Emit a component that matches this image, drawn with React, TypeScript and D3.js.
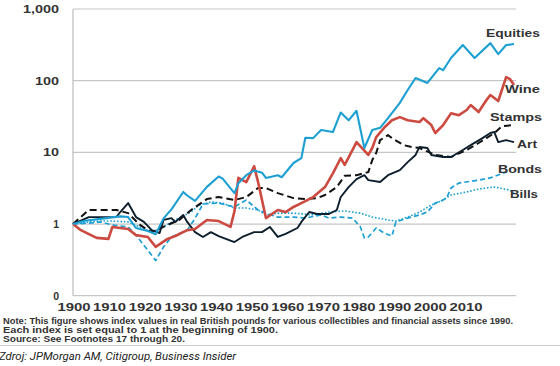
import * as d3 from 'd3';
import React, { useRef, useEffect } from 'react';

// [year, index value] (log scale, 1900 = 1)
const equities: [number, number][] = [
  [1900, 1.0], [1903, 1.11], [1908, 1.2], [1912, 1.28], [1914, 1.25], [1916, 0.88],
  [1919, 0.8], [1921, 0.72], [1923, 1.2], [1925, 1.6], [1928, 2.8], [1929, 2.5],
  [1931, 2.1], [1934, 3.3], [1937, 4.6], [1938, 4.3], [1941, 2.7], [1942, 3.7],
  [1944, 4.8], [1946, 5.6], [1948, 5.2], [1949, 4.4], [1952, 4.8], [1953, 4.5],
  [1956, 7.1], [1958, 8.3], [1959, 16], [1961, 15.8], [1963, 20.5], [1966, 19.2],
  [1968, 36], [1970, 28], [1972, 38], [1974, 11.5], [1976, 20.5], [1978, 22],
  [1980, 30], [1983, 49], [1985, 74], [1987, 109], [1990, 93], [1993, 150],
  [1994, 140], [1996, 207], [1999, 314], [2002, 207], [2006, 334], [2008, 235],
  [2010, 314], [2012, 324],
];

const wine: [number, number][] = [
  [1900, 1.0], [1902, 0.82], [1906, 0.64], [1909, 0.62], [1910, 0.91], [1914, 0.85],
  [1916, 0.7], [1919, 0.66], [1921, 0.48], [1924, 0.62], [1926, 0.68], [1929, 0.82],
  [1931, 0.85], [1934, 1.14], [1937, 1.1], [1940, 0.91], [1941, 1.5], [1942, 4.4],
  [1944, 3.85], [1946, 6.4], [1947, 3.85], [1949, 1.21], [1952, 1.57], [1954, 1.47],
  [1956, 1.73], [1958, 1.96], [1961, 2.38], [1964, 3.28], [1966, 5.1], [1968, 8.3],
  [1969, 6.7], [1971, 10.8], [1972, 13.9], [1975, 9.2], [1976, 11.5], [1977, 16.3],
  [1979, 22], [1981, 28], [1983, 31], [1985, 28], [1988, 26.5], [1989, 30],
  [1991, 24], [1992, 18.6], [1994, 24], [1996, 35], [1998, 33], [2000, 39],
  [2001, 45.7], [2003, 36.5], [2005, 53.6], [2006, 63], [2008, 52], [2010, 112],
  [2011, 105], [2012, 87],
];

const stamps: [number, number][] = [
  [1900, 1.0], [1904, 1.57], [1907, 1.57], [1911, 1.57], [1914, 1.42], [1917, 0.97],
  [1920, 0.77], [1924, 0.97], [1927, 1.14], [1930, 1.57], [1934, 2.23], [1937, 2.38],
  [1941, 2.16], [1944, 2.38], [1947, 3.18], [1949, 3.18], [1952, 2.7], [1956, 2.3],
  [1959, 2.23], [1962, 2.3], [1964, 2.54], [1967, 3.28], [1969, 4.7], [1972, 4.8],
  [1975, 5.3], [1976, 7.8], [1977, 9.8], [1978, 14.8], [1980, 17.4], [1981, 15.8],
  [1984, 12.6], [1986, 11.9], [1988, 11.5], [1992, 9.2], [1996, 8.6], [2000, 10.8],
  [2003, 13.5], [2005, 15.8], [2007, 18.6], [2009, 23.3], [2012, 24],
];

const art: [number, number][] = [
  [1900, 1.0], [1904, 1.25], [1907, 1.25], [1911, 1.25], [1912, 1.47], [1914, 1.96],
  [1915, 1.57], [1916, 1.25], [1918, 1.07], [1920, 0.82], [1922, 0.75], [1923, 1.14],
  [1925, 1.21], [1926, 1.07], [1928, 1.34], [1929, 1.07], [1931, 0.77], [1933, 0.66],
  [1935, 0.77], [1937, 0.68], [1941, 0.56], [1943, 0.66], [1946, 0.77], [1948, 0.77],
  [1950, 0.91], [1952, 0.66], [1954, 0.73], [1957, 0.88], [1958, 1.07], [1960, 1.47],
  [1962, 1.38], [1965, 1.38], [1967, 1.57], [1968, 2.38], [1970, 3.28], [1972, 4.24],
  [1974, 4.8], [1975, 4.1], [1978, 3.85], [1980, 4.8], [1983, 5.66], [1985, 7.3],
  [1987, 9.2], [1988, 11.9], [1990, 11.5], [1991, 9.2], [1994, 8.6], [1996, 8.6],
  [1999, 10.8], [2001, 12.6], [2004, 15.8], [2006, 18.6], [2007, 19.2], [2008, 13.9],
  [2010, 14.8], [2012, 13.9],
];

const bonds: [number, number][] = [
  [1900, 1.0], [1904, 1.03], [1907, 1.07], [1910, 0.97], [1914, 0.91], [1916, 0.7],
  [1919, 0.43], [1921, 0.31], [1923, 0.48], [1925, 0.66], [1929, 0.82], [1931, 1.2],
  [1933, 1.9], [1937, 1.96], [1941, 1.73], [1944, 2.16], [1947, 1.57], [1949, 1.42],
  [1952, 1.25], [1956, 1.25], [1959, 1.21], [1963, 1.34], [1965, 1.21], [1968, 1.25],
  [1971, 1.21], [1973, 0.91], [1974, 0.64], [1975, 0.66], [1977, 0.88], [1979, 0.75],
  [1981, 0.68], [1982, 1.07], [1985, 1.21], [1988, 1.34], [1990, 1.47], [1992, 1.96],
  [1994, 2.16], [1995, 2.38], [1996, 3.18], [1998, 3.73], [2003, 4.1], [2006, 4.4],
  [2010, 5.3], [2011, 6.0],
];

const bills: [number, number][] = [
  [1900, 1.0], [1904, 1.07], [1907, 1.1], [1910, 1.1], [1914, 1.07], [1917, 0.91],
  [1920, 0.77], [1923, 0.91], [1926, 1.14], [1930, 1.47], [1932, 1.84], [1935, 2.03],
  [1938, 1.96], [1941, 1.67], [1944, 1.67], [1947, 1.57], [1949, 1.34], [1952, 1.42],
  [1956, 1.42], [1961, 1.34], [1965, 1.47], [1969, 1.52], [1973, 1.42], [1976, 1.25],
  [1980, 1.14], [1982, 1.1], [1985, 1.25], [1988, 1.47], [1991, 1.84], [1994, 2.16],
  [1996, 2.54], [2000, 2.8], [2003, 3.07], [2007, 3.28], [2011, 2.97], [2012, 2.7],
];

const seriesNames = ['Equities', 'Wine', 'Stamps', 'Art', 'Bonds', 'Bills'];
const xTickLabels = ['1900', '1910', '1920', '1930', '1940', '1950', '1960', '1970', '1980', '1990', '2000', '2010'];
const yTickValues = [0.1, 1, 10, 100, 1000];
const yTickLabels = ['0', '1', '10', '100', '1,000'];
const notes = [
  'Note: This figure shows index values in real British pounds for various collectibles and financial assets since 1990.',
  'Each index is set equal to 1 at the beginning of 1900.',
  'Source: See Footnotes 17 through 20.',
];
const credit = 'Zdroj: JPMorgan AM, Citigroup, Business Insider';

const BLUE = '#1d9fd2';
const FONT = '"Liberation Sans", Arial, sans-serif';

const Chart = () => {
  const ref = useRef<SVGSVGElement>(null);

  useEffect(() => {
    const svg = d3.select(ref.current);
    svg.selectAll('*').remove();

    const x = d3.scaleLinear().domain([1900, 2012]).range([73, 514]);
    const y = d3.scaleLog().domain([0.1, 1000]).range([295.7, 9]);
    const xLab = d3.scalePoint().domain(xTickLabels).range([74, 466]);

    // grid
    svg.append('g')
      .selectAll('line')
      .data(yTickValues)
      .enter()
      .append('line')
      .attr('x1', 73)
      .attr('x2', 516)
      .attr('y1', (d) => y(d))
      .attr('y2', (d) => y(d))
      .attr('stroke', '#c6c6c6')
      .attr('stroke-width', 1.2);

    svg.append('line')
      .attr('x1', 73).attr('x2', 73)
      .attr('y1', y(1000)).attr('y2', y(0.1))
      .attr('stroke', '#bdbdbd')
      .attr('stroke-width', 1.2);

    // y tick labels
    svg.append('g')
      .selectAll('text')
      .data(yTickValues)
      .enter()
      .append('text')
      .attr('x', 59)
      .attr('y', (d) => y(d) + 4)
      .attr('text-anchor', 'end')
      .attr('font-family', FONT)
      .attr('font-weight', 'bold')
      .attr('font-size', 10.5)
      .attr('fill', '#333')
      .each(function (d, i) {
        const label = yTickLabels[i];
        const t = d3.select(this).text(label);
        if (label.length > 1) {
          const digits = label.replace(/,/g, '').length;
          t.attr('textLength', digits * 8 + (label.length - digits) * 4)
            .attr('lengthAdjust', 'spacingAndGlyphs');
        }
      });

    // x tick labels
    svg.append('g')
      .selectAll('text')
      .data(xTickLabels)
      .enter()
      .append('text')
      .attr('x', (d) => (xLab(d) as number) - 16.5)
      .attr('y', 311)
      .attr('font-family', FONT)
      .attr('font-weight', 'bold')
      .attr('font-size', 10.5)
      .attr('fill', '#333')
      .attr('textLength', 33)
      .attr('lengthAdjust', 'spacingAndGlyphs')
      .text((d) => d);

    const line = d3.line<[number, number]>()
      .x((d) => x(d[0]))
      .y((d) => y(d[1]));

    const series = [
      { data: bills, color: BLUE, width: 1.6, dash: '1.6,1.8' },
      { data: bonds, color: BLUE, width: 1.7, dash: '5,3' },
      { data: stamps, color: '#111', width: 2, dash: '7,4' },
      { data: art, color: '#0d1e2c', width: 1.9, dash: null },
      { data: wine, color: '#cc4a40', width: 2.6, dash: null },
      { data: equities, color: BLUE, width: 2.1, dash: null },
    ];

    svg.append('g')
      .selectAll('path')
      .data(series)
      .enter()
      .append('path')
      .attr('d', (s) => line(s.data))
      .attr('fill', 'none')
      .attr('stroke', (s) => s.color)
      .attr('stroke-width', (s) => s.width)
      .attr('stroke-dasharray', (s) => s.dash)
      .attr('stroke-linejoin', 'round');

    // series labels
    const labelPos: Record<string, [number, number, number]> = {
      Equities: [486, 37, 54],
      Wine: [505, 93, 35],
      Stamps: [490, 120.5, 52],
      Art: [517, 148, 20],
      Bonds: [498, 173, 44],
      Bills: [510, 198, 28],
    };
    svg.append('g')
      .selectAll('text')
      .data(seriesNames)
      .enter()
      .append('text')
      .attr('x', (d) => labelPos[d][0])
      .attr('y', (d) => labelPos[d][1])
      .attr('textLength', (d) => labelPos[d][2])
      .attr('lengthAdjust', 'spacingAndGlyphs')
      .attr('font-family', FONT)
      .attr('font-weight', 'bold')
      .attr('font-size', 11)
      .attr('fill', '#333')
      .text((d) => d);

    // notes
    const noteWidths = [510, 275, 182];
    svg.append('g')
      .selectAll('text')
      .data(notes)
      .enter()
      .append('text')
      .attr('x', 3)
      .attr('y', (d, i) => 324 + i * 9.2)
      .attr('textLength', (d, i) => noteWidths[i])
      .attr('lengthAdjust', 'spacingAndGlyphs')
      .attr('font-family', FONT)
      .attr('font-weight', 'bold')
      .attr('font-size', 8.6)
      .attr('fill', '#333')
      .text((d) => d);

    svg.append('line')
      .attr('x1', 0).attr('x2', 560)
      .attr('y1', 345.5).attr('y2', 345.5)
      .attr('stroke', '#cfcfcf')
      .attr('stroke-width', 1);

    svg.append('text')
      .attr('x', -1)
      .attr('y', 360)
      .attr('textLength', 237)
      .attr('lengthAdjust', 'spacingAndGlyphs')
      .attr('font-family', 'Roboto, "Open Sans", sans-serif')
      .attr('font-style', 'italic')
      .attr('font-size', 11.5)
      .attr('fill', '#222')
      .text(credit);
  }, []);

  return <svg ref={ref} width={560} height={366} style={{ display: 'block', background: '#fff' }} />;
};

export default function App() {
  return (
    <div style={{ position: 'absolute', left: 0, top: 0, width: 560, height: 366 }}>
      <Chart />
    </div>
  );
}
